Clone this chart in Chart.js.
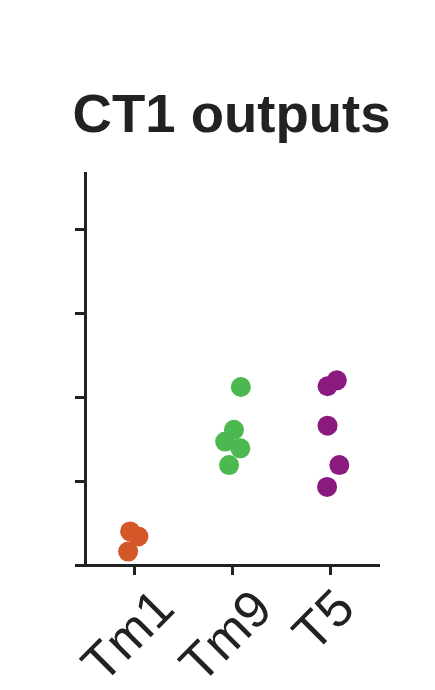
<!DOCTYPE html>
<html>
<head>
<meta charset="utf-8">
<script src="https://cdn.jsdelivr.net/npm/chart.js@4"></script>
<style>
  html, body { margin: 0; padding: 0; background: #fff; }
  #wrap { width: 435px; height: 690px; }
</style>
</head>
<body>
<div id="wrap"><canvas id="myChart"></canvas></div>
<script>
/* data */
const categories = ['Tm1', 'Tm9', 'T5'];
const yTicks = [0, 1, 2, 3, 4];

// x = category index + jitter, y = value
const tm1X = [-0.04, 0.045, -0.06];
const tm1Y = [0.40, 0.34, 0.16];
const tm9X = [0.09, 0.02, -0.07, 0.085, -0.03];
const tm9Y = [2.12, 1.61, 1.47, 1.39, 1.19];
const t5X = [0.07, -0.025, -0.025, 0.095, -0.03];
const t5Y = [2.20, 2.13, 1.66, 1.19, 0.93];

const colors = ['#d4572a', '#4cb850', '#8b1a7f'];

function points(idx, xs, ys) {
  return xs.map((dx, i) => ({ x: idx + dx, y: ys[i] }));
}

const ink = '#222222';
const fontFamily = '"Liberation Sans", Arial, Helvetica, sans-serif';

/* rotated x labels: centre each label's box under its tick (like the original) */
const centerRotatedLabels = {
  id: 'centerRotatedLabels',
  beforeDraw(chart) {
    const scale = chart.scales.x;
    const items = scale.getLabelItems(chart.chartArea);
    const c = chart.ctx;
    const top = scale.top + 22;
    items.forEach((it, i) => {
      c.save();
      c.font = it.font.string;
      c.textAlign = 'center';
      c.textBaseline = 'alphabetic';
      const m = c.measureText(it.label);
      c.restore();
      const a = it.options.rotation;
      const cos = Math.cos(a), sin = Math.sin(a);
      const xs = [-m.actualBoundingBoxLeft, m.actualBoundingBoxRight];
      const ys = [-m.actualBoundingBoxAscent, m.actualBoundingBoxDescent];
      let minX = Infinity, maxX = -Infinity, minY = Infinity;
      xs.forEach(px => ys.forEach(py => {
        const rx = px * cos - py * sin;
        const ry = px * sin + py * cos;
        minX = Math.min(minX, rx); maxX = Math.max(maxX, rx); minY = Math.min(minY, ry);
      }));
      const tickX = scale.getPixelForTick(i) - 7;
      it.options.textAlign = 'center';
      it.options.textBaseline = 'alphabetic';
      it.textOffset = 0;
      it.options.translation = [tickX - (minX + maxX) / 2, top - minY];
    });
  }
};

let ctx = document.querySelector('#myChart').getContext('2d');
let myChart = new Chart(ctx, {
  type: 'scatter',
  data: {
    datasets: [
      { label: 'Tm1', data: points(0, tm1X, tm1Y), backgroundColor: colors[0], borderColor: colors[0] },
      { label: 'Tm9', data: points(1, tm9X, tm9Y), backgroundColor: colors[1], borderColor: colors[1] },
      { label: 'T5', data: points(2, t5X, t5Y), backgroundColor: colors[2], borderColor: colors[2] },
    ]
  },
  options: {
    responsive: true,
    maintainAspectRatio: false,
    animation: false,
    layout: { padding: { top: 84, left: 70, right: 42, bottom: 0 } },
    elements: { point: { radius: 10, borderWidth: 0, hoverRadius: 10 } },
    plugins: {
      legend: { display: false },
      tooltip: { enabled: false },
      title: {
        display: true,
        text: 'CT1 outputs',
        color: ink,
        font: { family: fontFamily, size: 54.5, weight: 'bold' },
        padding: { top: 0, bottom: 23.6 },
      },
    },
    scales: {
      x: {
        type: 'linear',
        min: -0.5,
        max: 2.5,
        afterBuildTicks: (scale) => { scale.ticks = categories.map((c, i) => ({ value: i })); },
        afterFit: (scale) => {
          scale.height = 125;
          scale.paddingLeft = 0; scale.paddingRight = 0;
        },
        ticks: {
          autoSkip: false,
          minRotation: 45,
          maxRotation: 45,
          padding: 2,
          color: ink,
          font: { family: fontFamily, size: 52 },
          callback: (v) => categories[v] ?? '',
        },
        grid: { drawOnChartArea: false, drawTicks: true, tickLength: 10, tickWidth: 3, tickColor: ink },
        border: { display: true, color: ink, width: 3 },
      },
      y: {
        min: 0,
        max: 4.67,
        afterBuildTicks: (scale) => { scale.ticks = yTicks.map(v => ({ value: v })); },
        afterFit: (scale) => {
          scale.width = 15;
          scale.paddingTop = 0; scale.paddingBottom = 0;
        },
        ticks: { display: false },
        grid: { drawOnChartArea: false, drawTicks: true, tickLength: 10, tickWidth: 3, tickColor: ink },
        border: { display: true, color: ink, width: 3 },
      },
      // empty spacer on the right so the plot ends where the original does
      spacer: {
        type: 'linear',
        position: 'right',
        afterFit: (scale) => { scale.width = 14; scale.paddingTop = 0; scale.paddingBottom = 0; },
        ticks: { display: false },
        grid: { display: false, drawTicks: false },
        border: { display: false },
      }
    }
  },
  plugins: [centerRotatedLabels]
});
</script>
</body>
</html>
